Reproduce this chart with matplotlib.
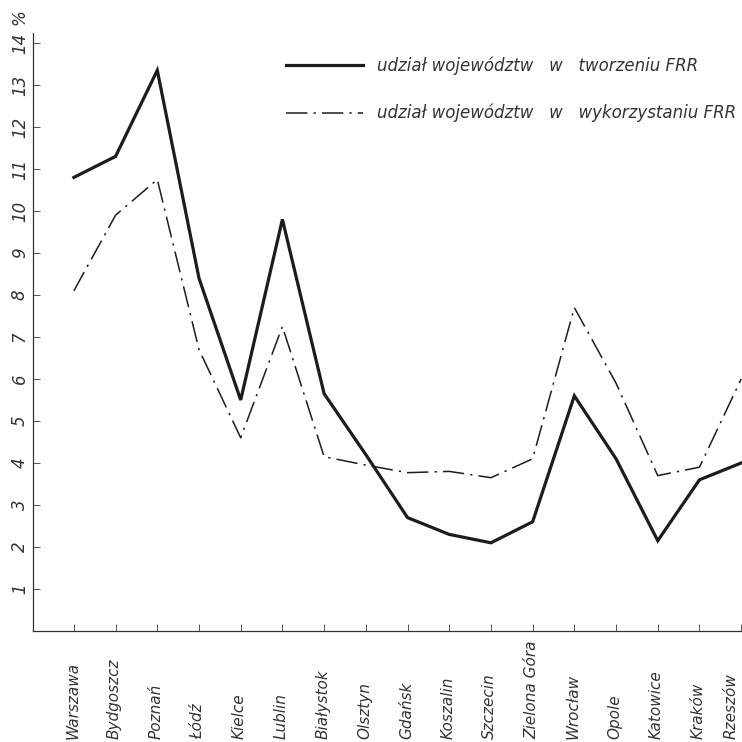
import matplotlib
matplotlib.use("Agg")
import matplotlib.pyplot as plt
import matplotlib.transforms as mtransforms

voivodeships = ["Warszawa", "Bydgoszcz", "Poznań", "Łódź", "Kielce", "Lublin",
                "Białystok", "Olsztyn", "Gdańsk", "Koszalin", "Szczecin",
                "Zielona Góra", "Wrocław", "Opole", "Katowice", "Kraków", "Rzeszów"]

# udział województw w tworzeniu FRR (%)
creation = [10.8, 11.3, 13.35, 8.4, 5.5, 9.8, 5.65, 4.2, 2.7, 2.3, 2.1,
            2.6, 5.6, 4.1, 2.15, 3.6, 4.0]
# udział województw w wykorzystaniu FRR (%)
usage = [8.1, 9.9, 10.75, 6.7, 4.6, 7.25, 4.15, 3.95, 3.77, 3.8, 3.65,
         4.1, 7.7, 5.9, 3.7, 3.9, 6.0]

label_creation = "udział województw   w   tworzeniu FRR"
label_usage = "udział województw   w   wykorzystaniu FRR"

ink = "#1c1c1c"
text_col = "#333333"
plt.rcParams["font.family"] = "DejaVu Sans"

fig = plt.figure(figsize=(7.42, 7.42), dpi=100)
ax = fig.add_axes([33 / 742, 111 / 742, 709 / 742, 598.5 / 742])

x = list(range(len(voivodeships)))
ax.plot(x, creation, color=ink, lw=2.3, solid_joinstyle="miter",
        label=label_creation)
ax.plot(x, usage, color=ink, lw=1.1, linestyle=(0, (14, 4, 1.5, 4)),
        label=label_usage)

ax.set_xlim(-0.98, 16.02)
ax.set_ylim(0, 14.25)

for side in ["top", "right"]:
    ax.spines[side].set_visible(False)
for side in ["left", "bottom"]:
    ax.spines[side].set_color(text_col)
    ax.spines[side].set_linewidth(0.9)

# category names start at the bottom edge and read upwards
ax.set_xticks(x)
ax.set_xticklabels([])
trans = mtransforms.blended_transform_factory(ax.transData, ax.transAxes)
for i, name in enumerate(voivodeships):
    shift = 0.08 if i < len(voivodeships) - 1 else -0.14  # keep last one inside
    ax.text(i + shift, -0.1805, name, transform=trans, rotation=90,
            rotation_mode="anchor", ha="left", va="baseline", fontsize=11,
            style="italic", color=text_col, clip_on=False)

ax.set_yticks(range(1, 15))
ax.set_yticklabels([str(v) for v in range(1, 15)], rotation=90, fontsize=12,
                   style="italic", color=text_col, va="center")
ax.tick_params(axis="both", direction="in", length=5, width=0.7, colors="#555555")
ax.tick_params(axis="y", pad=3, labelcolor=text_col)

ax.text(-1.3, 14.62, "%", rotation=90, fontsize=12, style="italic",
        color=text_col, ha="center", va="center", clip_on=False)

leg = ax.legend(loc="upper left", bbox_to_anchor=(278 / 742, 1 - 48 / 742),
                bbox_transform=fig.transFigure, frameon=False, borderpad=0,
                handlelength=4.6, handletextpad=0.85, labelspacing=1.75,
                prop={"size": 12, "style": "italic"})
for t in leg.get_texts():
    t.set_color(text_col)

fig.savefig("out.png", dpi=100)
